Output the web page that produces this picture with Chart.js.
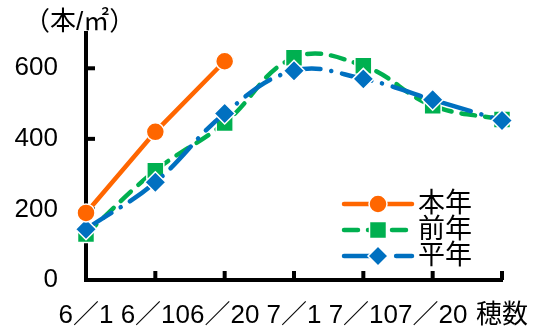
<!DOCTYPE html>
<html>
<head>
<meta charset="utf-8">
<script src="https://cdn.jsdelivr.net/npm/chart.js@4/dist/chart.umd.min.js"></script>
<style>
  body { margin: 0; background: #fff; }
  #wrap { width: 536px; height: 334px; }
</style>
</head>
<body>
<div id="wrap"><canvas id="myChart" width="536" height="334"></canvas></div>
<script>
  let labels = ['6／1', '6／10', '6／20', '7／1', '7／10', '7／20', '穂数'];
  let honnen = [190, 420, 620, null, null, null, null];
  let zennen = [130, 310, 445, 630, 607, 494, 455];
  let heinen = [144, 277, 472, 593, 570, 511, 452];
  let yTicks = [0, 200, 400, 600];
  let names = ['本年', '前年', '平年'];
  let colors = ['#ff6600', '#00b050', '#0070c0'];

  let font = '"Liberation Sans", "Noto Sans CJK JP", sans-serif';

  // draw a marker like the ones in the chart
  function marker(ctx, style, x, y, r, color) {
    ctx.save();
    ctx.fillStyle = color;
    ctx.strokeStyle = '#fff';
    ctx.lineWidth = 1.5;
    ctx.setLineDash([]);
    ctx.beginPath();
    if (style == 'circle') {
      ctx.arc(x, y, r, 0, Math.PI * 2);
    } else if (style == 'rect') {
      let s = r * Math.SQRT1_2;
      ctx.rect(x - s, y - s, s * 2, s * 2);
    } else {
      ctx.moveTo(x, y - r); ctx.lineTo(x + r, y); ctx.lineTo(x, y + r); ctx.lineTo(x - r, y);
      ctx.closePath();
    }
    ctx.fill();
    ctx.stroke();
    ctx.restore();
  }

  let extras = {
    id: 'extras',
    beforeDatasetsDraw(chart) {
      let ctx = chart.ctx;
      let xs = chart.scales.x, ys = chart.scales.y;
      let area = chart.chartArea;
      ctx.save();
      ctx.strokeStyle = '#000';
      ctx.lineWidth = 4;
      // inward tick marks
      yTicks.forEach(v => {
        if (v == 0) return;
        let y = ys.getPixelForValue(v);
        ctx.beginPath(); ctx.moveTo(area.left, y); ctx.lineTo(area.left + 9, y); ctx.stroke();
      });
      labels.forEach((l, i) => {
        if (i == 0) return;
        let x = xs.getPixelForValue(i);
        ctx.beginPath(); ctx.moveTo(x, area.bottom); ctx.lineTo(x, area.bottom - 9); ctx.stroke();
      });
      ctx.restore();
    },
    afterDraw(chart) {
      let ctx = chart.ctx;
      ctx.save();
      ctx.fillStyle = '#000';
      ctx.font = '26px ' + font;
      ctx.textBaseline = 'middle';
      ctx.textAlign = 'left';
      ctx.fillText('（本/㎡）', 24, 23);

      // legend
      let styles = ['circle', 'rect', 'rectRot'];
      let dashes = [[], [14, 10], [30, 11, 0.1, 11]];
      let sizes = [9, 12, 10];
      ctx.font = '27px ' + font;
      for (let i = 0; i < 3; i++) {
        let y = 204 + i * 26;
        ctx.strokeStyle = colors[i];
        ctx.lineWidth = 4.5;
        ctx.lineCap = 'round';
        ctx.setLineDash(dashes[i]);
        ctx.beginPath(); ctx.moveTo(344, y); ctx.lineTo(412, y); ctx.stroke();
        marker(ctx, styles[i], 378, y, sizes[i], colors[i]);
        ctx.fillStyle = '#000';
        ctx.fillText(names[i], 418, y + 1);
      }
      ctx.restore();
    }
  };

  let myChart = document.getElementById('myChart').getContext('2d');
  let chart = new Chart(myChart, {
    type: 'line',
    data: {
      labels: labels,
      datasets: [
        {
          label: names[0], data: honnen, order: 0,
          borderColor: colors[0], backgroundColor: colors[0], borderWidth: 4.5,
          pointStyle: 'circle', pointRadius: 9, pointBorderColor: '#fff', pointBorderWidth: 1.5,
          tension: 0, clip: false
        },
        {
          label: names[2], data: heinen, order: 1,
          borderColor: colors[2], backgroundColor: colors[2], borderWidth: 4.5,
          borderDash: [30, 11, 0.1, 11], borderCapStyle: 'round',
          pointStyle: 'rectRot', pointRadius: 10.5, pointBorderColor: '#fff', pointBorderWidth: 1.5,
          tension: 0.4, clip: false
        },
        {
          label: names[1], data: zennen, order: 2,
          borderColor: colors[1], backgroundColor: colors[1], borderWidth: 4.5,
          borderDash: [14, 10], borderCapStyle: 'round',
          pointStyle: 'rect', pointRadius: 12, pointBorderColor: '#fff', pointBorderWidth: 1.5,
          tension: 0.4, clip: false
        }
      ]
    },
    options: {
      responsive: false,
      animation: false,
      layout: { padding: { top: 33, right: 34, left: 0, bottom: 0 } },
      plugins: { legend: { display: false }, tooltip: { enabled: false }, title: { display: false } },
      scales: {
        x: {
          offset: false,
          grid: { display: false, drawTicks: false },
          border: { color: '#000', width: 4 },
          ticks: { color: '#000', font: { size: 26, family: font }, padding: 20, maxRotation: 0, autoSkip: false },
          afterFit(scale) { scale.height = 54; scale.paddingLeft = 0; scale.paddingRight = 0; }
        },
        y: {
          min: 0, max: 700,
          grid: { display: false, drawTicks: false },
          border: { color: '#000', width: 4 },
          ticks: { color: '#000', font: { size: 26, family: font }, padding: 28 },
          afterBuildTicks(scale) { scale.ticks = yTicks.map(v => ({ value: v })); },
          afterFit(scale) { scale.width = 86; scale.paddingTop = 0; scale.paddingBottom = 0; }
        }
      }
    },
    plugins: [extras]
  });
</script>
</body>
</html>
